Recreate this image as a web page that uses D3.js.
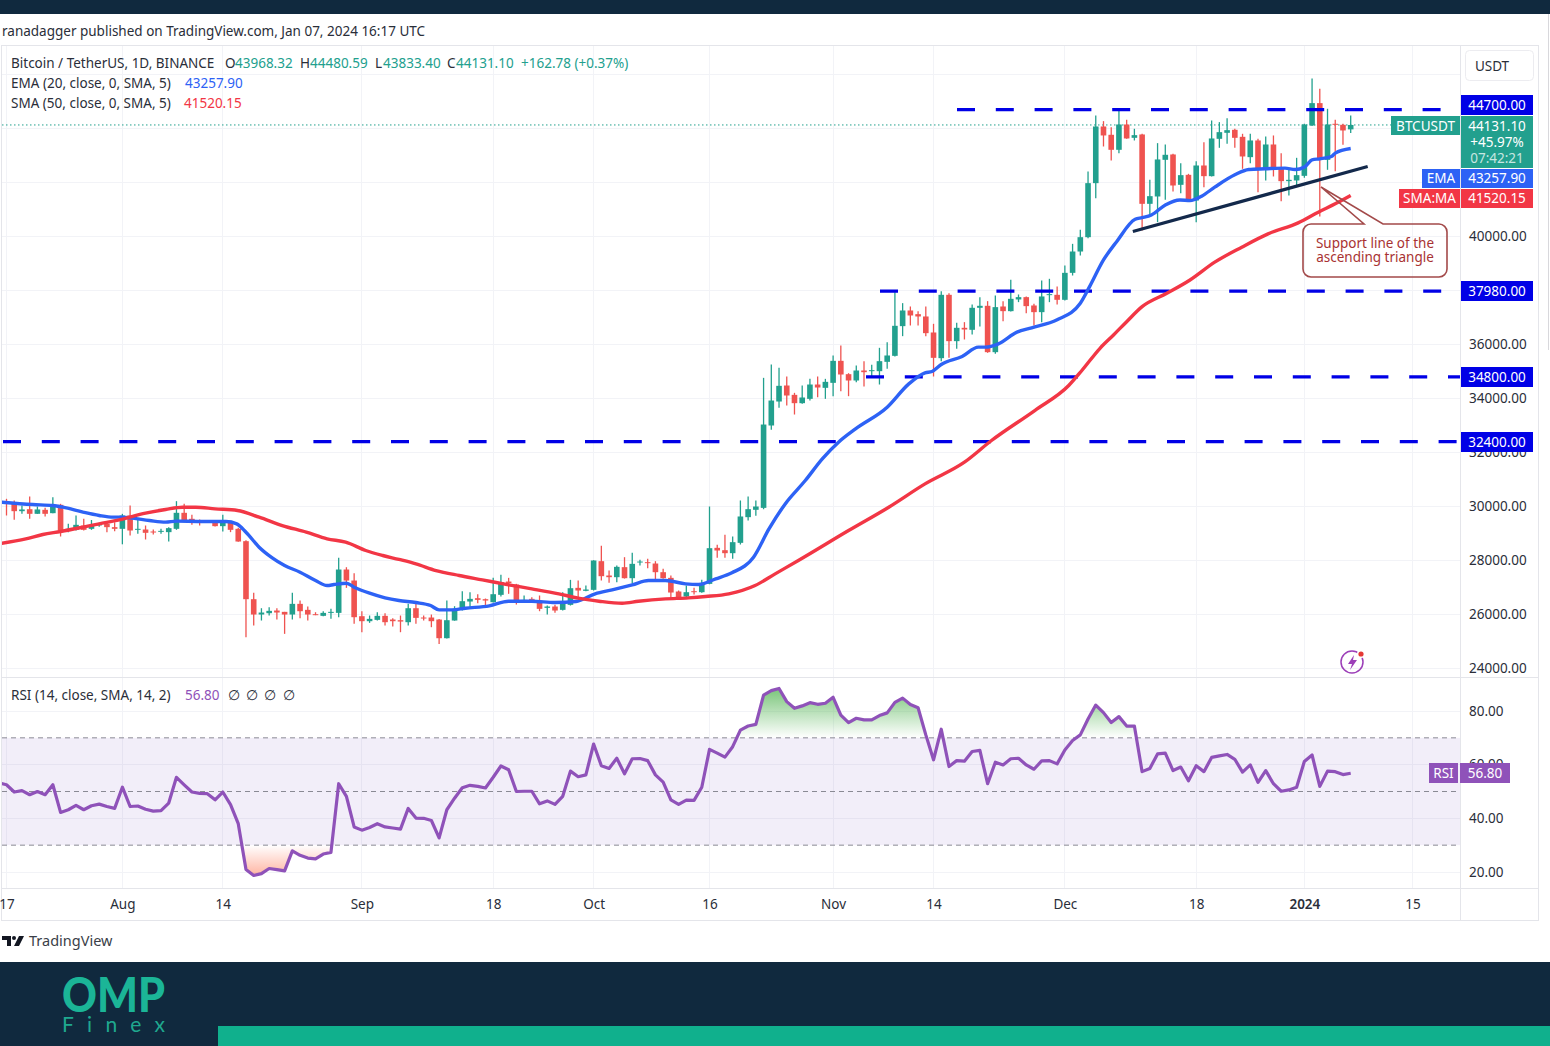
<!DOCTYPE html>
<html>
<head>
<meta charset="utf-8">
<script src="https://cdnjs.cloudflare.com/ajax/libs/d3/7.8.5/d3.min.js"></script>
<style>
  html, body { margin: 0; padding: 0; background: #fff; }
  svg { display: block; }
  text { font-family: "Noto Sans", sans-serif; font-size: 13.5px; fill: #2a2e39; }
  .axis path.domain { display: none; }
</style>
</head>
<body>
<svg id="chart" width="1550" height="1046"></svg>
<script>
/* globals d3 */
const firstDay = Date.UTC(2023, 6, 17);

const candleOpen = [
  30200, 30136, 29827, 29900, 29729, 29877, 29753, 30062, 29100, 29136,
  29296, 29173, 29300, 29358, 29235, 29173, 29667, 29136, 29148, 29074,
  29062, 29050, 29173, 29766, 29544, 29457, 29430, 29420, 29272, 29395,
  29173, 28716, 26567, 25999, 26048, 26147, 26098, 25999, 26394, 26172,
  26011, 25950, 26060, 26060, 27666, 27258, 25937, 25752, 25801, 25950,
  25814, 25789, 25715, 26233, 25888, 25888, 25813, 25122, 25777, 26172,
  26480, 26604, 26567, 26456, 26728, 27221, 27110, 26505, 26579, 26517,
  26246, 26295, 26172, 26357, 26987, 26876, 26913, 27975, 27444, 27382,
  27753, 27345, 27925, 27938, 27888, 27567, 27357, 26851, 26666, 26863,
  26826, 27135, 28469, 28382, 28271, 28654, 29605, 29877, 29949, 33000,
  33888, 34481, 34135, 33827, 33987, 34518, 34395, 34580, 35395, 34901,
  34667, 35037, 35012, 35012, 35358, 35580, 36680, 37260, 37124, 37038,
  36445, 35494, 37840, 36124, 36618, 36544, 37359, 37433, 35716, 37408,
  37235, 37668, 37754, 37445, 37198, 37840, 37840, 37655, 38654, 39444,
  39975, 41976, 44075, 43767, 43211, 44149, 43655, 43779, 41210, 41482,
  42840, 43038, 41914, 42284, 41334, 42630, 42235, 43618, 43840, 43952,
  43692, 42939, 43557, 42470, 43408, 42507, 42050, 42075, 42247, 44112,
  44940, 42840, 44174, 44137, 43968
];
const candleHigh = [
  30285, 30222, 30037, 30370, 30000, 29950, 30346, 30099, 29358, 29667,
  29543, 29500, 29400, 29457, 29420, 29728, 30037, 29543, 29296, 29148,
  29173, 29235, 30198, 30099, 29692, 29518, 29470, 29445, 29692, 29445,
  29210, 28750, 26801, 26233, 26270, 26233, 26098, 26801, 26517, 26295,
  26085, 26122, 26209, 28098, 27752, 27530, 26122, 25962, 26085, 26048,
  25863, 25962, 26394, 26394, 25962, 25999, 25830, 26517, 26307, 26863,
  26826, 26752, 26592, 27357, 27468, 27357, 27135, 26703, 26641, 26703,
  26332, 26357, 26826, 27283, 27259, 27073, 28010, 28543, 27629, 27814,
  28123, 28284, 28024, 28061, 27975, 27691, 27444, 26888, 27073, 26987,
  27283, 30000, 28580, 28950, 28889, 30223, 30371, 30223, 34765, 35259,
  35136, 34815, 34210, 34481, 34728, 34815, 34728, 35593, 35963, 34938,
  35222, 35383, 35247, 35877, 36087, 37939, 37532, 37408, 37235, 37408,
  36766, 37976, 37902, 36803, 36828, 37482, 37754, 37606, 37816, 37606,
  38396, 37853, 37779, 37507, 38372, 38433, 38149, 38925, 39728, 40247,
  42408, 44483, 44273, 44050, 44693, 44322, 43989, 43804, 42099, 43458,
  43408, 43063, 42717, 42321, 42791, 43495, 44297, 44236, 44384, 43989,
  43804, 43804, 43618, 43705, 43742, 43087, 42470, 42914, 44174, 45854,
  45471, 44730, 44322, 44174, 44480
];
const candleLow = [
  29667, 29506, 29728, 29543, 29729, 29630, 29753, 28889, 29050, 29111,
  29111, 29136, 29250, 29050, 29086, 28600, 28926, 28988, 28778, 28963,
  28988, 28704, 29136, 29420, 29321, 29296, 29400, 29259, 29074, 29050,
  28691, 25159, 25591, 25777, 25962, 25813, 25283, 25813, 25863, 25776,
  25975, 25937, 25838, 25900, 26987, 25653, 25344, 25690, 25777, 25591,
  25554, 25344, 25591, 25653, 25777, 25530, 24912, 25110, 25770, 26147,
  26270, 26419, 26332, 26440, 26666, 26765, 26369, 26493, 26493, 26122,
  25999, 26061, 26147, 26332, 26641, 26863, 26888, 27259, 27172, 27197,
  27330, 27160, 27814, 27715, 27259, 27320, 26579, 26579, 26616, 26740,
  26801, 27120, 28098, 28098, 28061, 28592, 29482, 29654, 29899, 32839,
  33654, 33740, 33407, 33802, 33925, 34049, 33987, 34086, 34271, 34086,
  34605, 34444, 34790, 34518, 35099, 35556, 36309, 36704, 36704, 36309,
  34815, 35383, 35506, 35840, 36186, 36371, 36667, 35692, 35655, 36865,
  37220, 37569, 37161, 36704, 36828, 37569, 37482, 37630, 38555, 39296,
  39938, 41420, 43334, 42816, 43087, 43619, 43557, 40222, 40802, 40531,
  41358, 41667, 41605, 41309, 40531, 41827, 42223, 43285, 43433, 43285,
  42507, 42717, 41642, 42075, 42223, 41309, 41519, 41889, 42173, 44088,
  40741, 42470, 42420, 43396, 43833
];
const candleClose = [
  30100, 29827, 29890, 29729, 29890, 29729, 30062, 29111, 29173, 29321,
  29136, 29296, 29358, 29235, 29173, 29667, 29111, 29173, 29025, 29037,
  29098, 29198, 29766, 29482, 29420, 29420, 29450, 29272, 29445, 29136,
  28703, 26567, 25999, 26073, 26135, 26073, 25999, 26394, 26122, 25999,
  25987, 26060, 26098, 27666, 27258, 25900, 25752, 25838, 25950, 25715,
  25752, 25739, 26233, 25875, 25851, 25752, 25122, 25789, 26209, 26493,
  26579, 26542, 26517, 26752, 27197, 27160, 26493, 26542, 26542, 26209,
  26295, 26147, 26394, 26974, 26888, 26925, 28000, 27419, 27382, 27765,
  27345, 27876, 27962, 27901, 27567, 27345, 26814, 26641, 26826, 26826,
  27135, 28456, 28370, 28271, 28679, 29630, 29901, 30000, 33036, 33925,
  34469, 34111, 33827, 34037, 34518, 34407, 34617, 35395, 34889, 34667,
  35037, 34975, 35049, 35383, 35593, 36692, 37260, 37075, 37038, 36420,
  35506, 37840, 36124, 36618, 36556, 37359, 37433, 35716, 37384, 37235,
  37692, 37754, 37421, 37198, 37779, 37865, 37655, 38654, 39444, 39975,
  41976, 44075, 43742, 43211, 44149, 43631, 43754, 41210, 41494, 42853,
  43026, 41889, 42272, 41334, 42630, 42235, 43631, 43865, 43939, 43655,
  42964, 43557, 42470, 43408, 42470, 42050, 42099, 42272, 44149, 44940,
  42840, 44149, 44137, 43927, 44131
];

const emaDays = [
  -1, 3.4, 6, 7.3, 9.9, 12, 13.8, 15, 16.3, 18.5, 20.6, 22, 25, 28.4, 29.8, 31,
  32.7, 34.4, 36, 38, 40, 41.5, 42.4, 44, 45, 47, 49, 50.8, 53, 54.9, 56, 57.7,
  59.4, 62.5, 65, 68, 71, 73.7, 76.2, 78.4, 81, 83.1, 85.3, 87.9, 89.6, 91.8,
  93.9, 96.7, 98.7, 100.8, 103.4, 105.6, 107.7, 109.9, 114, 116.8, 118.9, 119.8,
  121, 123.7, 125.8, 126.7, 128.4, 130.8, 132.7, 136, 139, 140.2, 142, 143.7,
  146.1, 147, 148.2, 150, 151.9, 153.2, 154.7, 156.4, 159, 160.8, 162.9, 165.5, 166.8,
  168, 169, 170, 171.5, 172, 174
];
const emaValues = [
  30170, 30074, 30037, 29975, 29790, 29667, 29605, 29605, 29568, 29482, 29420, 29457, 29445, 29445, 29358, 29049,
  28493, 28098, 27814, 27567, 27258, 27073, 27110, 27160, 27012, 26789, 26616, 26517, 26443, 26332, 26172, 26172,
  26233, 26320, 26493, 26493, 26443, 26480, 26765, 26913, 27098, 27258, 27258, 27135, 27110, 27320,
  27543, 28123, 29170, 30097, 30962, 31764, 32382, 32876, 33679, 34543, 34951, 35000,
  35259, 35556, 35901, 35901, 36025, 36457, 36618, 36914, 37527, 38142, 39131, 39809,
  40638, 40698, 40798, 41168, 41353, 41330, 41494, 41827, 42284, 42482, 42507, 42532, 42482,
  42569, 42840, 42877, 42964, 43087, 43258
];

const smaDays = [
  -1, 2.5, 4.7, 7, 9.9, 12, 14.6, 18, 20.6, 22.8, 24.5, 27, 29.9, 32.7, 35.7, 38.8,
  41.5, 43.9, 46.5, 48.7, 50.8, 53, 55.6, 58.6, 61.6, 65, 68, 71.5, 74, 76.7, 79.7,
  81.8, 85.3, 88.3, 90.5, 93.5, 96.9, 99.5, 102.5, 109, 114.2, 118.9, 124, 127.5,
  133.1, 137.5, 139.2, 141.55, 143.3, 145, 147, 150.2, 153.2, 156.4, 159.9, 163.3, 167.2,
  169.8, 172, 174
];
const smaValues = [
  28620, 28802, 28963, 29074, 29235, 29358, 29506, 29753, 29889, 29975, 29975, 29914, 29852, 29605, 29296, 29049,
  28802, 28679, 28370, 28185, 28040, 27876, 27629, 27444, 27283, 27098, 26950, 26765, 26604, 26493, 26419,
  26493, 26579, 26616, 26666, 26765, 27073, 27505, 27999, 29109, 29974, 30838, 31641, 32444,
  33555, 34481, 35037, 35860, 36353, 36845, 37401, 37897, 38390, 39049, 39605, 40098, 40506,
  40902, 41210, 41520
];

// first value sits one day before the first visible candle
const rsiValues = [
  53.2,
  52.5, 49.8, 50.3, 48.8, 50.0, 48.8, 52.5, 42.2, 43.2, 44.8,
  43.2, 44.7, 45.3, 44.4, 43.7, 51.6, 44.4, 44.6, 43.4, 42.7,
  42.9, 45.7, 55.3, 52.5, 49.8, 49.3, 49.2, 46.9, 49.8, 45.1,
  38.0, 20.9, 18.7, 19.4, 21.3, 20.9, 20.4, 27.9, 26.2, 25.2,
  24.9, 26.7, 27.3, 52.9, 48.2, 36.8, 35.6, 36.6, 38.0, 36.8,
  36.4, 36.0, 43.7, 40.1, 40.0, 39.2, 32.7, 43.2, 47.5, 51.4,
  52.3, 51.9, 51.3, 55.3, 59.5, 58.1, 50.0, 50.1, 50.1, 45.4,
  46.5, 45.2, 48.2, 57.6, 55.5, 56.2, 67.7, 59.6, 58.6, 62.4,
  56.6, 62.2, 62.3, 61.5, 56.2, 53.5, 46.9, 45.2, 46.8, 46.7,
  51.6, 65.7, 64.3, 62.8, 66.7, 72.9, 74.4, 75.0, 85.9, 87.6,
  88.4, 83.5, 81.0, 81.9, 83.1, 82.5, 82.9, 85.1, 78.5, 75.7,
  77.3, 76.7, 76.7, 78.3, 79.3, 83.2, 84.8, 82.4, 81.2, 71.1,
  61.8, 73.2, 59.3, 61.5, 61.3, 64.9, 65.3, 52.9, 60.9, 59.9,
  62.2, 62.4, 59.9, 58.3, 61.4, 61.5, 60.3, 65.5, 69.0, 71.1,
  77.0, 82.2, 79.4, 75.7, 77.9, 74.4, 74.4, 57.4, 58.6, 64.0,
  64.3, 57.8, 59.1, 54.0, 59.6, 57.4, 62.7, 63.3, 63.8, 62.0,
  57.2, 59.9, 53.4, 57.8, 52.9, 50.1, 50.6, 51.6, 61.2, 63.6,
  51.9, 57.6, 57.4, 56.3, 56.8
];

const priceTicks = [24000, 26000, 28000, 30000, 32000, 34000, 36000, 38000, 40000, 42000, 44000, 46000];
const priceLabels = [24000, 26000, 28000, 30000, 32000, 34000, 36000, 40000];
const rsiTicks = [20, 40, 60, 80];
const rsiLevels = [70, 50, 30];
const levelPrices = [44700, 37980, 34800, 32400];
const levelStartX = [957, 880, 866, 3];
const levelEndX = [1447, 1447, 1460, 1460];
const trendDays = [145.8, 176.2];
const trendPrices = [40185, 42593];
const timeTicks = [
  [2023, 6, 17], [2023, 7, 1], [2023, 7, 14], [2023, 8, 1], [2023, 8, 18], [2023, 9, 1], [2023, 9, 16],
  [2023, 10, 1], [2023, 10, 14], [2023, 11, 1], [2023, 11, 18], [2024, 0, 1], [2024, 0, 15]
];
const timeLabels = ['17', 'Aug', '14', 'Sep', '18', 'Oct', '16', 'Nov', '14', 'Dec', '18', '2024', '15'];

const GREEN = '#22a08e';
const RED = '#ef5350';
const BLUE = '#2d62f5';
const CRIMSON = '#f23645';
const PURPLE = '#8f52b9';
const LEVEL = '#0000e6';
const NAVY = '#10293e';
const GRID = '#f2f3f7';
const BORDER = '#e4e5ea';

const dayDate = d => new Date(firstDay + d * 86400000);

const x = d3.scaleUtc()
  .domain([dayDate(0), new Date(Date.UTC(2024, 0, 15))])
  .range([6.5, 1412.5]);
const yPrice = d3.scaleLinear().domain([24000, 44700]).range([668.5, 109.6]);
const yRsi = d3.scaleLinear().domain([20, 80]).range([872, 711]);

const svg = d3.select('#chart');
const defs = svg.append('defs');

defs.append('clipPath').attr('id', 'mainClip').append('rect')
  .attr('x', 2).attr('y', 46).attr('width', 1458).attr('height', 631);
defs.append('clipPath').attr('id', 'rsiClip').append('rect')
  .attr('x', 2).attr('y', 678).attr('width', 1458).attr('height', 210);
defs.append('clipPath').attr('id', 'overClip').append('rect')
  .attr('x', 2).attr('y', 678).attr('width', 1458).attr('height', yRsi(70) - 678);
defs.append('clipPath').attr('id', 'underClip').append('rect')
  .attr('x', 2).attr('y', yRsi(30)).attr('width', 1458).attr('height', 888 - yRsi(30));

const overGrad = defs.append('linearGradient').attr('id', 'overGrad')
  .attr('gradientUnits', 'userSpaceOnUse')
  .attr('x1', 0).attr('x2', 0).attr('y1', yRsi(88)).attr('y2', yRsi(70));
overGrad.append('stop').attr('offset', 0).attr('stop-color', '#5cb85c').attr('stop-opacity', 0.8);
overGrad.append('stop').attr('offset', 1).attr('stop-color', '#5cb85c').attr('stop-opacity', 0);
const underGrad = defs.append('linearGradient').attr('id', 'underGrad')
  .attr('gradientUnits', 'userSpaceOnUse')
  .attr('x1', 0).attr('x2', 0).attr('y1', yRsi(30)).attr('y2', yRsi(19));
underGrad.append('stop').attr('offset', 0).attr('stop-color', '#ff7a5a').attr('stop-opacity', 0);
underGrad.append('stop').attr('offset', 1).attr('stop-color', '#ff7a5a').attr('stop-opacity', 0.55);

// page furniture
svg.append('rect').attr('width', 1550).attr('height', 14).attr('fill', NAVY);
svg.append('rect').attr('y', 962).attr('width', 1550).attr('height', 84).attr('fill', NAVY);
svg.append('rect').attr('x', 218).attr('y', 1026).attr('width', 1332).attr('height', 20).attr('fill', '#10b08d');
svg.append('line').attr('x1', 1548.5).attr('x2', 1548.5).attr('y1', 14).attr('y2', 350).attr('stroke', '#d8d8dc');
svg.append('text').attr('x', 2).attr('y', 36).text('ranadagger published on TradingView.com, Jan 07, 2024 16:17 UTC');

// grids
const gridG = svg.append('g').attr('stroke', GRID).attr('stroke-width', 1).attr('shape-rendering', 'crispEdges');
gridG.selectAll('.vgrid').data(timeTicks).join('line').attr('class', 'vgrid')
  .attr('x1', d => x(new Date(Date.UTC(...d)))).attr('x2', d => x(new Date(Date.UTC(...d))))
  .attr('y1', 46).attr('y2', 888);
gridG.selectAll('.hgrid').data(priceTicks).join('line').attr('class', 'hgrid')
  .attr('x1', 2).attr('x2', 1460).attr('y1', d => yPrice(d)).attr('y2', d => yPrice(d));
gridG.selectAll('.rgrid').data(rsiTicks).join('line').attr('class', 'rgrid')
  .attr('x1', 2).attr('x2', 1460).attr('y1', d => yRsi(d)).attr('y2', d => yRsi(d));

// frame
const frame = svg.append('g').attr('stroke', BORDER).attr('fill', 'none').attr('shape-rendering', 'crispEdges');
frame.append('rect').attr('x', 1.5).attr('y', 45.5).attr('width', 1537).attr('height', 875);
frame.append('line').attr('x1', 1460.5).attr('x2', 1460.5).attr('y1', 46).attr('y2', 920);
frame.append('line').attr('x1', 2).attr('x2', 1538).attr('y1', 677.5).attr('y2', 677.5);
frame.append('line').attr('x1', 2).attr('x2', 1538).attr('y1', 888.5).attr('y2', 888.5);

// main pane
const main = svg.append('g').attr('clip-path', 'url(#mainClip)');
main.append('line')
  .attr('x1', 2).attr('x2', 1391)
  .attr('y1', yPrice(candleClose[candleClose.length - 1])).attr('y2', yPrice(candleClose[candleClose.length - 1]))
  .attr('stroke', GREEN).attr('stroke-dasharray', '1.5 2.5');

const candles = main.selectAll('.candle').data(candleOpen).join('g').attr('class', 'candle')
  .attr('fill', (d, i) => candleClose[i] >= d ? GREEN : RED)
  .attr('stroke', (d, i) => candleClose[i] >= d ? GREEN : RED);
candles.append('line')
  .attr('x1', (d, i) => x(dayDate(i))).attr('x2', (d, i) => x(dayDate(i)))
  .attr('y1', (d, i) => yPrice(candleHigh[i])).attr('y2', (d, i) => yPrice(candleLow[i]))
  .attr('stroke-width', 1.3);
candles.append('rect')
  .attr('x', (d, i) => x(dayDate(i)) - 2.8).attr('width', 5.6)
  .attr('y', (d, i) => yPrice(Math.max(d, candleClose[i])))
  .attr('height', (d, i) => Math.max(1, Math.abs(yPrice(d) - yPrice(candleClose[i]))))
  .attr('stroke', 'none');

main.selectAll('.level').data(levelPrices).join('line').attr('class', 'level')
  .attr('x1', (d, i) => levelStartX[i]).attr('x2', (d, i) => levelEndX[i])
  .attr('y1', d => yPrice(d)).attr('y2', d => yPrice(d))
  .attr('stroke', LEVEL).attr('stroke-width', 3.2).attr('stroke-dasharray', '18 20.8');

const maLine = d3.line().x(d => x(dayDate(d[0]))).y(d => yPrice(d[1])).curve(d3.curveMonotoneX);
main.append('path').datum(d3.zip(emaDays, emaValues)).attr('d', maLine)
  .attr('fill', 'none').attr('stroke', BLUE).attr('stroke-width', 3.4).attr('stroke-linejoin', 'round');
main.append('path').datum(d3.zip(smaDays, smaValues)).attr('d', maLine)
  .attr('fill', 'none').attr('stroke', CRIMSON).attr('stroke-width', 3.4).attr('stroke-linejoin', 'round');
main.append('path').datum(d3.zip(trendDays, trendPrices)).attr('d', maLine)
  .attr('fill', 'none').attr('stroke', '#13294b').attr('stroke-width', 3.2);

// callout
const callout = d3.path();
callout.moveTo(1383, 224);
callout.lineTo(1439, 224);
callout.arcTo(1447, 224, 1447, 232, 8);
callout.lineTo(1447, 269);
callout.arcTo(1447, 277, 1439, 277, 8);
callout.lineTo(1311, 277);
callout.arcTo(1303, 277, 1303, 269, 8);
callout.lineTo(1303, 232);
callout.arcTo(1303, 224, 1311, 224, 8);
callout.lineTo(1364, 224);
callout.lineTo(1321, 187);
callout.closePath();
svg.append('path').attr('d', callout.toString()).attr('fill', 'none').attr('stroke', '#a34a4a').attr('stroke-width', 1.6);
svg.selectAll('.calloutText').data(['Support line of the', 'ascending triangle']).join('text')
  .attr('class', 'calloutText').attr('x', 1375).attr('y', (d, i) => 248 + i * 14)
  .attr('text-anchor', 'middle').style('fill', '#a83232').text(d => d);

// flash icon
const flash = svg.append('g');
flash.append('circle').attr('cx', 1352).attr('cy', 662).attr('r', 11).attr('fill', 'none').attr('stroke', '#9c3fb8').attr('stroke-width', 1.5);
flash.append('path').attr('d', 'M1354 655 L1348 664 L1352 664 L1350 670 L1357 660 L1353 660 Z').attr('fill', '#9c3fb8');
flash.append('circle').attr('cx', 1361).attr('cy', 654).attr('r', 4).attr('fill', '#fff');
flash.append('circle').attr('cx', 1361).attr('cy', 654).attr('r', 2.6).attr('fill', '#e53935');

// rsi pane
svg.append('rect').attr('x', 2).attr('y', yRsi(70)).attr('width', 1458).attr('height', yRsi(30) - yRsi(70))
  .attr('fill', '#7e57c2').attr('fill-opacity', 0.1);
svg.selectAll('.rsiLevel').data(rsiLevels).join('line').attr('class', 'rsiLevel')
  .attr('x1', 2).attr('x2', 1460).attr('y1', d => yRsi(d)).attr('y2', d => yRsi(d))
  .attr('stroke', '#8a8a94').attr('stroke-dasharray', '5 4');

const rsiArea = base => d3.area()
  .x((d, i) => x(dayDate(i - 1))).y0(yRsi(base)).y1(d => yRsi(d));
svg.append('path').datum(rsiValues).attr('d', rsiArea(70)).attr('fill', 'url(#overGrad)').attr('clip-path', 'url(#overClip)');
svg.append('path').datum(rsiValues).attr('d', rsiArea(30)).attr('fill', 'url(#underGrad)').attr('clip-path', 'url(#underClip)');
svg.append('path').datum(rsiValues)
  .attr('d', d3.line().x((d, i) => x(dayDate(i - 1))).y(d => yRsi(d)))
  .attr('clip-path', 'url(#rsiClip)')
  .attr('fill', 'none').attr('stroke', PURPLE).attr('stroke-width', 3.2).attr('stroke-linejoin', 'round');

// axes
svg.append('g').attr('class', 'axis').attr('transform', 'translate(1460,-0.5)')
  .call(d3.axisRight(yPrice).tickValues(priceLabels).tickSize(0).tickPadding(9).tickFormat(d3.format('.2f')));
svg.append('g').attr('class', 'axis').attr('transform', 'translate(1460,0)')
  .call(d3.axisRight(yRsi).tickValues(rsiTicks).tickSize(0).tickPadding(9).tickFormat(d3.format('.2f')));
svg.append('g').attr('class', 'axis timeAxis').attr('transform', 'translate(0,888)')
  .call(d3.axisBottom(x).tickValues(timeTicks.map(d => new Date(Date.UTC(...d)))).tickSize(0).tickPadding(11)
    .tickFormat((d, i) => timeLabels[i]));
svg.selectAll('.axis text').style('font-family', '"Noto Sans", sans-serif').style('font-size', '13.5px').style('fill', '#2a2e39');
svg.selectAll('.timeAxis text').filter(d => d.getUTCFullYear() === 2024 && d.getUTCDate() === 1).style('font-weight', 600);

// legends
const legendRows = [
  [11, 68, 'Bitcoin / TetherUS, 1D, BINANCE', '#2a2e39'],
  [225, 68, 'O', '#2a2e39'], [235, 68, '43968.32', GREEN],
  [300, 68, 'H', '#2a2e39'], [310, 68, '44480.59', GREEN],
  [375, 68, 'L', '#2a2e39'], [383, 68, '43833.40', GREEN],
  [447, 68, 'C', '#2a2e39'], [456, 68, '44131.10', GREEN],
  [521, 68, '+162.78 (+0.37%)', GREEN],
  [11, 88, 'EMA (20, close, 0, SMA, 5)', '#2a2e39'], [185, 88, '43257.90', BLUE],
  [11, 108, 'SMA (50, close, 0, SMA, 5)', '#2a2e39'], [184, 108, '41520.15', CRIMSON],
  [11, 700, 'RSI (14, close, SMA, 14, 2)', '#2a2e39'], [185, 700, '56.80', PURPLE],
  [228, 700, '\u2205', '#2a2e39'], [246, 700, '\u2205', '#2a2e39'], [264, 700, '\u2205', '#2a2e39'], [283, 700, '\u2205', '#2a2e39']
];
svg.selectAll('.legend').data(legendRows).join('text').attr('class', 'legend')
  .attr('x', d => d[0]).attr('y', d => d[1]).style('fill', d => d[3]).text(d => d[2]);

// USDT button
svg.append('rect').attr('x', 1465.5).attr('y', 50.5).attr('width', 68).attr('height', 30).attr('rx', 4)
  .attr('fill', '#fff').attr('stroke', '#ececf0');
svg.append('text').attr('x', 1492).attr('y', 71).attr('text-anchor', 'middle').text('USDT');

// price tags
const drawTag = (x0, x1, y0, y1, color) => svg.append('rect')
  .attr('x', x0).attr('width', x1 - x0).attr('y', y0).attr('height', y1 - y0).attr('fill', color);
const tagText = (cx, cy, label, opacity) => svg.append('text')
  .attr('x', cx).attr('y', cy + 5).attr('text-anchor', 'middle').style('fill', '#fff')
  .style('fill-opacity', opacity || 1).text(label);

levelPrices.forEach(p => {
  const cy = Math.round(yPrice(p)) - (p === 44700 ? 5 : 0);
  drawTag(1461, 1533, cy - 10, cy + 10, LEVEL);
  tagText(1497, cy, d3.format('.2f')(p));
});
drawTag(1391, 1460, 116, 135, GREEN);
tagText(1425.5, 125.5, 'BTCUSDT');
drawTag(1461, 1533, 116, 168, GREEN);
tagText(1497, 125.5, '44131.10');
tagText(1497, 142, '+45.97%');
tagText(1497, 158, '07:42:21', 0.75);
drawTag(1422, 1460, 169, 188, BLUE);
tagText(1441, 178, 'EMA');
drawTag(1461, 1533, 169, 188, BLUE);
tagText(1497, 178, '43257.90');
drawTag(1399, 1460, 189, 208, CRIMSON);
tagText(1429.5, 198, 'SMA:MA');
drawTag(1461, 1533, 189, 208, CRIMSON);
tagText(1497, 198, '41520.15');
drawTag(1429, 1458, 763, 783, PURPLE);
tagText(1443.5, 773, 'RSI');
drawTag(1460, 1510, 763, 783, PURPLE);
tagText(1485, 773, '56.80');

// TradingView mark
svg.append('path').attr('d', 'M2 936 H11 V946 H7 V940 H2 Z M19 936 H24 L19 946 H14 Z').attr('fill', '#131722');
svg.append('circle').attr('cx', 14).attr('cy', 938).attr('r', 2).attr('fill', '#131722');
svg.append('text').attr('x', 29).attr('y', 946).style('font-size', '14.5px').style('fill', '#3a3e48').text('TradingView');

// OMP logo
svg.append('text').attr('x', 62).attr('y', 1012)
  .attr('textLength', 103).attr('lengthAdjust', 'spacingAndGlyphs')
  .style('font-family', 'Lato, sans-serif').style('font-weight', 900).style('font-size', '47px').style('fill', '#1bb597').text('OMP');
svg.append('text').attr('x', 62).attr('y', 1032)
  .attr('textLength', 103).attr('lengthAdjust', 'spacing')
  .style('font-family', 'Lato, sans-serif').style('font-weight', 400).style('font-size', '21px').style('fill', '#1fa88f').text('Finex');
</script>
</body>
</html>
